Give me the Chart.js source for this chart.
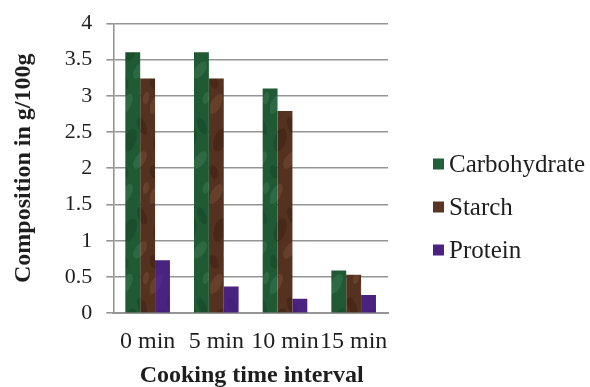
<!DOCTYPE html>
<html>
<head>
<meta charset="utf-8">
<script src="https://cdn.jsdelivr.net/npm/chart.js@4.4.0/dist/chart.umd.min.js"></script>
<style>
  html, body { margin: 0; padding: 0; background: #fff; }
  #wrap { width: 590px; height: 387px; }
</style>
</head>
<body>
<div id="wrap"><canvas id="chart" width="590" height="387"></canvas></div>
<script>
/* ==== Data ==== */
const categories = ['0 min', '5 min', '10 min', '15 min'];
const carbohydrate = [3.6, 3.6, 3.1, 0.59];
const starch = [3.24, 3.24, 2.79, 0.53];
const protein = [0.73, 0.37, 0.2, 0.25];
const yTicks = [0, 0.5, 1, 1.5, 2, 2.5, 3, 3.5, 4];

const FONT = '"Liberation Serif", "DejaVu Serif", serif';
const GRID = '#959595';
const TEXT = '#1e1e1e';

/* ==== Mottled fill like the old Excel textures ==== */
function texture(base, light, dark){
  const cv = document.createElement('canvas');
  cv.width = 30; cv.height = 90;
  const g = cv.getContext('2d');
  g.fillStyle = base; g.fillRect(0, 0, 30, 90);
  // fixed blotches: x, y, rx, ry, angle, colour
  const spots = [[6,14,5,11,0.5,light],[22,36,4,9,-0.4,dark],[10,50,6,12,0.3,dark],[20,70,5,10,0.6,light],[4,82,4,7,-0.3,dark],[26,8,3,6,0.2,light]];
  g.globalAlpha = 0.3;
  spots.forEach(([x,y,rx,ry,a,col]) => {
    g.fillStyle = col;
    g.beginPath(); g.ellipse(x, y, rx, ry, a, 0, Math.PI * 2); g.fill();
  });
  return g.createPattern(cv, 'repeat');
}

/* ==== Legend + x title drawn at fixed spots, like the original ==== */
const extras = {
  id: 'extras',
  afterDraw(chart) {
    const c = chart.ctx;
    const area = chart.chartArea;
    const top = 164, step = 43;
    c.save();
    c.font = '25px ' + FONT;
    c.textBaseline = 'middle';
    chart.data.datasets.forEach((ds, i) => {
      const y = top + i * step;
      c.fillStyle = ds.swatch;
      c.fillRect(433, y - 5.5, 11, 11);
      c.fillStyle = TEXT;
      c.fillText(ds.label, 449, y + 1);
    });
    // x axis title
    c.font = 'bold 24px ' + FONT;
    c.textAlign = 'center';
    c.textBaseline = 'alphabetic';
    c.fillStyle = TEXT;
    c.fillText('Cooking time interval', (area.left + area.right) / 2 + 1, 382);
    c.restore();
  }
};

const ctx = document.getElementById('chart').getContext('2d');
new Chart(ctx, {
  type: 'bar',
  data: {
    labels: categories,
    datasets: [
      { label: 'Carbohydrate', data: carbohydrate, swatch: '#22603a', backgroundColor: texture('#1f5a34', '#4f9063', '#0e381d') },
      { label: 'Starch', data: starch, swatch: '#5a3524', backgroundColor: texture('#55311f', '#8d6548', '#2b150a') },
      { label: 'Protein', data: protein, swatch: '#4b2281', backgroundColor: texture('#4a2381', '#5c3597', '#3a1868') }
    ]
  },
  plugins: [extras],
  options: {
    responsive: false,
    animation: false,
    layout: { padding: { top: 0, right: 202, bottom: 17, left: 9 } },
    datasets: { bar: { categoryPercentage: 0.65, barPercentage: 1 } },
    plugins: {
      tooltip: { enabled: false },
      legend: { display: false }
    },
    scales: {
      x: {
        grid: { display: false, drawTicks: false },
        border: { color: GRID, width: 2 },
        ticks: { font: { family: FONT, size: 24 }, color: TEXT, padding: 14, maxRotation: 0, autoSkip: false }
      },
      y: {
        min: 0, max: 4,
        afterBuildTicks: axis => { axis.ticks = yTicks.map(v => ({ value: v })); },
        grid: { color: GRID, lineWidth: 1.6, tickLength: 7 },
        border: { color: GRID, width: 1.6 },
        ticks: { font: { family: FONT, size: 22, lineHeight: 0.85 }, color: TEXT, padding: 14, callback: v => String(v) },
        title: { display: true, text: 'Composition in g/100g', font: { family: FONT, size: 24, weight: 'bold' }, color: TEXT, padding: { top: 0, bottom: 13 } }
      }
    }
  }
});
</script>
</body>
</html>
